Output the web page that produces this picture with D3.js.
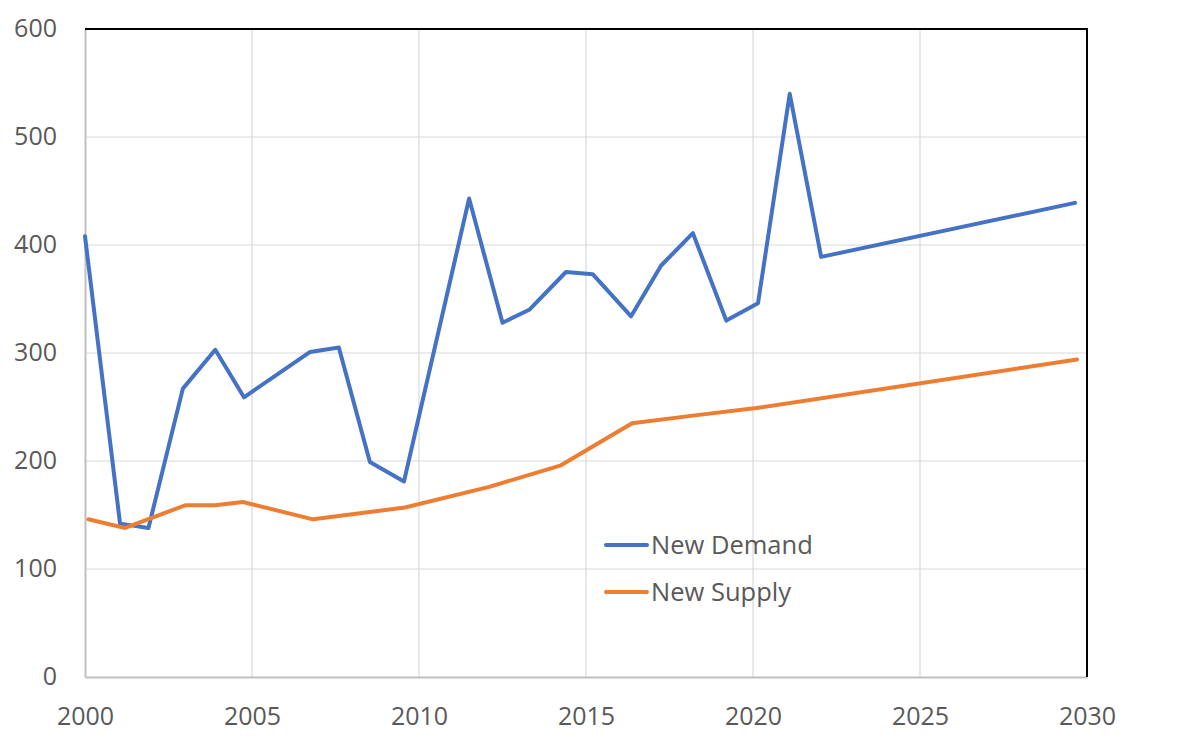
<!DOCTYPE html>
<html lang="en">
<head>
    <meta charset="UTF-8">
    <title>New Demand vs New Supply</title>
    <script src="https://d3js.org/d3.v7.min.js"></script>
    <style>
        body { margin: 0; background: #fff; font-family: 'Open Sans', sans-serif; }
        svg { display: block; }
        .tick text { fill: #595959; font-size: 25px; font-family: 'Open Sans', sans-serif; }
    </style>
</head>
<body>
    <script>
        // values
        const demandYears  = [2000.0, 2001.05, 2001.9, 2002.93, 2003.9, 2004.76, 2006.74, 2007.6, 2008.53, 2009.55,
                              2011.5, 2012.5, 2013.3, 2014.4, 2015.2, 2016.35, 2017.25, 2018.2, 2019.2, 2020.15,
                              2021.1, 2022.04, 2029.64];
        const demandValues = [408, 142, 138, 267, 303, 259, 301, 305, 199, 181,
                              443, 328, 340, 375, 373, 334, 381, 411, 330, 346,
                              540, 389, 439];
        const supplyYears  = [2000.1, 2001.2, 2003.0, 2003.9, 2004.73, 2006.83, 2009.58, 2012.1, 2014.25, 2016.38,
                              2018.2, 2020.1, 2029.7];
        const supplyValues = [146, 138, 159, 159, 162, 146, 157, 176, 196, 235,
                              242, 249, 294];
        const xTicks = [2000, 2005, 2010, 2015, 2020, 2025, 2030];
        const yTicks = [0, 100, 200, 300, 400, 500, 600];
        const seriesNames = ["New Demand", "New Supply"];
        const seriesColors = ["#4472C4", "#ED7D31"];

        const width = 1184, height = 745;
        const margin = { top: 29, right: 97, bottom: 68, left: 85 };

        const x = d3.scaleLinear().domain([2000, 2030]).range([margin.left, width - margin.right]);
        const y = d3.scaleLinear().domain([0, 600]).range([height - margin.bottom, margin.top]);

        const svg = d3.select("body").append("svg")
            .attr("width", width)
            .attr("height", height);

        // gridlines
        svg.append("g")
            .selectAll("line")
            .data(yTicks.slice(1, -1))
            .join("line")
            .attr("x1", margin.left).attr("x2", width - margin.right)
            .attr("y1", d => y(d)).attr("y2", d => y(d))
            .attr("stroke", "#d9d9d9").attr("stroke-width", 1.2);

        svg.append("g")
            .selectAll("line")
            .data(xTicks.slice(1, -1))
            .join("line")
            .attr("y1", margin.top).attr("y2", height - margin.bottom)
            .attr("x1", d => x(d)).attr("x2", d => x(d))
            .attr("stroke", "#d9d9d9").attr("stroke-width", 1.2);

        // axes
        const xAxis = svg.append("g")
            .attr("transform", `translate(0,${height - margin.bottom})`)
            .call(d3.axisBottom(x).tickValues(xTicks).tickFormat(d3.format("d")).tickSize(0).tickPadding(30));
        xAxis.select(".domain").attr("stroke", "#bfbfbf").attr("stroke-width", 2);

        const yAxis = svg.append("g")
            .attr("transform", `translate(${margin.left},0)`)
            .call(d3.axisLeft(y).tickValues(yTicks).tickSize(0).tickPadding(28));
        yAxis.select(".domain").attr("stroke", "#bfbfbf").attr("stroke-width", 2);
        yAxis.selectAll(".tick text").attr("dy", "0.3em");

        // top and right border
        svg.append("path")
            .attr("d", `M${margin.left},${margin.top}H${width - margin.right}V${height - margin.bottom}`)
            .attr("fill", "none")
            .attr("stroke", "#000")
            .attr("stroke-width", 2);

        const line = d3.line().x(d => x(d[0])).y(d => y(d[1]));

        const series = [
            d3.zip(demandYears, demandValues),
            d3.zip(supplyYears, supplyValues)
        ];

        svg.append("g")
            .selectAll("path")
            .data(series)
            .join("path")
            .attr("fill", "none")
            .attr("stroke", (d, i) => seriesColors[i])
            .attr("stroke-width", 4)
            .attr("stroke-linejoin", "round")
            .attr("stroke-linecap", "round")
            .attr("d", line);

        // legend
        const legend = svg.append("g").attr("transform", "translate(606,545)");
        const item = legend.selectAll("g")
            .data(seriesNames)
            .join("g")
            .attr("transform", (d, i) => `translate(0,${i * 47})`);
        item.append("line")
            .attr("x1", 0).attr("x2", 41)
            .attr("stroke", (d, i) => seriesColors[i])
            .attr("stroke-width", 4)
            .attr("stroke-linecap", "round");
        item.append("text")
            .attr("x", 45)
            .attr("dy", "0.36em")
            .attr("fill", "#595959")
            .style("font-size", "25.5px")
            .text(d => d);
    </script>
</body>
</html>
